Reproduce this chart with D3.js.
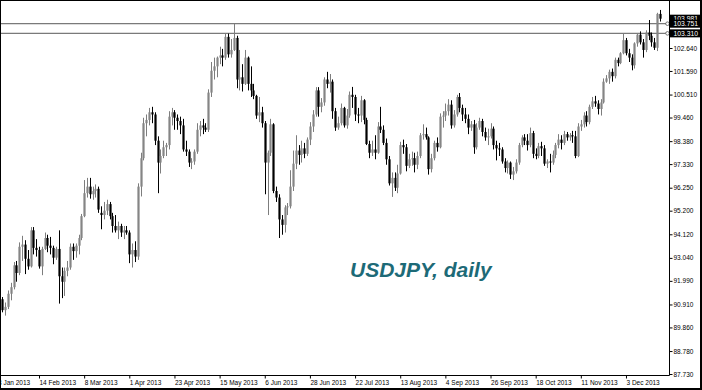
<!DOCTYPE html>
<html>
<head>
<meta charset="utf-8">
<script src="https://cdn.jsdelivr.net/npm/d3@7"></script>
<style>
  html, body { margin: 0; padding: 0; background: #fff; }
  svg { display: block; }
  text { font-family: "Liberation Sans", Arial, sans-serif; }
</style>
</head>
<body>
<div id="chart"></div>
<script>
// USDJPY daily bars, 28 Jan 2013 .. 19 Dec 2013 (weekdays)
const firstDay = "2013-01-23";   // first weekday of the axis (bars start 3 days later)
const lastDay = "2013-12-19";
const firstBar = 3;

const opens = [
  91.15, 90.65, 90.80, 91.40, 91.70, 92.70, 92.35, 93.55, 93.65, 93.00,
  92.65, 94.30, 93.50, 93.40, 92.65, 93.45, 93.95, 93.60, 93.50, 93.05,
  93.45, 92.20, 91.95, 92.45, 92.60, 93.55, 93.35, 93.60, 93.95, 94.95,
  96.00, 96.30, 95.95, 96.10, 96.20, 95.10, 95.00, 95.20, 95.50, 94.95,
  94.50, 94.30, 94.50, 94.20, 94.30, 94.20, 93.20, 93.40, 93.10, 96.30,
  97.60, 99.20, 99.35, 99.70, 99.60, 98.40, 97.40, 97.70, 98.10, 98.20,
  99.50, 99.70, 99.45, 99.30, 99.10, 98.00, 97.90, 97.40, 97.45, 97.90,
  98.90, 99.10, 99.00, 98.90, 100.60, 101.60, 101.80, 102.20, 102.30, 102.20,
  103.15, 102.35, 102.55, 103.10, 101.20, 101.30, 101.00, 102.20, 101.00, 100.70,
  100.45, 99.55, 99.70, 99.20, 97.40, 97.85, 99.15, 96.10, 95.80, 94.80,
  94.55, 95.35, 95.40, 96.30, 97.35, 97.95, 97.75, 98.05, 97.80, 98.45,
  99.05, 99.60, 100.70, 99.95, 100.15, 101.20, 101.00, 101.10, 99.75, 99.00,
  99.20, 99.90, 99.10, 99.55, 100.50, 100.40, 99.60, 99.55, 100.25, 99.35,
  98.25, 97.85, 98.00, 97.85, 99.05, 98.90, 98.30, 97.55, 96.45, 96.70,
  96.25, 96.90, 98.20, 98.10, 97.25, 97.55, 97.60, 97.30, 97.70, 98.65,
  98.70, 98.55, 97.10, 97.60, 98.30, 98.10, 99.50, 99.55, 99.75, 100.05,
  99.10, 99.60, 100.40, 99.90, 99.60, 99.40, 99.00, 99.15, 98.10, 99.00,
  99.30, 98.80, 98.55, 98.60, 98.95, 98.20, 98.05, 98.00, 97.45, 97.15,
  97.40, 96.85, 97.00, 97.40, 98.20, 98.55, 98.40, 98.20, 98.75, 97.80,
  97.70, 98.15, 98.05, 97.35, 97.45, 97.40, 97.75, 98.20, 98.45, 98.30,
  98.70, 98.55, 98.65, 98.60, 97.70, 99.05, 99.15, 99.55, 99.25, 99.95,
  100.20, 100.10, 99.85, 100.15, 101.10, 101.25, 101.55, 101.35, 102.10, 101.95,
  102.40, 103.00, 102.40, 102.20, 101.85, 102.85, 103.25, 102.90, 102.55, 103.35,
  103.20, 102.90, 102.65, 104.20
];
const highs = [
  91.25, 91.00, 91.55, 91.90, 92.85, 92.90, 93.75, 94.05, 93.85, 93.40,
  94.45, 94.45, 93.90, 93.55, 93.55, 94.20, 94.10, 94.00, 93.60, 93.55,
  94.30, 92.60, 92.60, 92.90, 93.70, 93.70, 93.70, 94.10, 95.05, 96.60,
  96.70, 96.70, 96.30, 96.40, 96.30, 95.40, 95.60, 95.70, 95.60, 95.10,
  95.00, 94.70, 94.60, 94.50, 94.50, 94.30, 93.70, 93.80, 96.45, 97.85,
  99.45, 99.60, 99.90, 99.95, 99.70, 98.60, 98.00, 98.40, 98.30, 99.75,
  99.90, 99.80, 99.60, 99.50, 99.40, 98.40, 98.00, 97.60, 98.00, 99.20,
  99.30, 99.40, 99.20, 100.75, 102.00, 102.20, 102.25, 102.70, 102.60, 103.30,
  103.30, 103.05, 103.74, 103.20, 102.55, 101.90, 102.55, 102.25, 101.80, 101.00,
  100.50, 100.40, 99.95, 99.30, 97.95, 99.40, 99.20, 96.30, 95.95, 95.00,
  95.45, 95.55, 97.05, 97.95, 98.65, 98.20, 98.40, 98.30, 98.55, 99.25,
  99.80, 100.85, 100.85, 100.35, 101.30, 101.55, 101.45, 101.20, 99.90, 99.50,
  100.10, 99.95, 99.85, 100.65, 100.86, 100.50, 99.90, 100.45, 100.30, 99.45,
  98.40, 98.40, 98.65, 99.25, 99.95, 99.10, 98.50, 97.70, 96.95, 96.95,
  97.30, 98.35, 98.45, 98.25, 97.80, 97.90, 97.85, 97.90, 98.75, 99.15,
  99.00, 98.60, 97.80, 98.40, 98.55, 99.65, 99.75, 100.10, 100.30, 100.25,
  99.80, 100.50, 100.58, 100.05, 99.90, 99.60, 99.30, 99.35, 99.20, 99.45,
  99.40, 99.00, 98.95, 99.20, 99.05, 98.40, 98.30, 98.10, 97.60, 97.50,
  97.45, 97.20, 97.55, 98.30, 98.65, 98.70, 98.70, 99.00, 98.85, 98.05,
  98.30, 98.35, 98.20, 97.55, 97.80, 97.95, 98.30, 98.70, 98.65, 98.85,
  98.80, 98.75, 98.85, 98.85, 99.20, 99.35, 99.70, 99.75, 100.05, 100.40,
  100.45, 100.25, 100.30, 101.25, 101.40, 101.65, 101.70, 102.20, 102.20, 102.45,
  103.31, 103.10, 102.60, 102.35, 102.90, 103.30, 103.40, 103.05, 103.45, 103.92,
  103.35, 103.10, 104.25, 104.38
];
const lows = [
  90.55, 90.40, 90.70, 91.10, 91.60, 91.95, 92.25, 92.90, 92.30, 92.50,
  92.60, 93.20, 93.10, 92.55, 92.25, 93.40, 93.30, 93.20, 92.75, 92.95,
  90.95, 91.20, 91.30, 92.20, 92.50, 92.95, 93.05, 93.20, 93.85, 94.90,
  95.80, 95.75, 95.70, 95.80, 95.10, 94.35, 94.80, 95.00, 94.80, 94.20,
  94.20, 93.90, 94.00, 93.90, 94.10, 92.80, 92.60, 92.85, 92.95, 95.85,
  97.50, 98.60, 99.10, 99.20, 98.20, 96.00, 96.90, 97.60, 97.70, 98.00,
  99.10, 98.90, 98.90, 98.70, 97.90, 97.70, 97.20, 97.10, 97.30, 97.80,
  98.60, 98.70, 98.80, 98.80, 100.40, 101.20, 101.30, 101.90, 101.80, 102.10,
  102.20, 102.20, 102.50, 100.80, 100.70, 100.65, 100.95, 100.70, 100.40, 100.30,
  99.40, 99.25, 99.00, 95.95, 95.00, 97.70, 96.00, 95.60, 93.95, 94.10,
  94.20, 95.00, 95.30, 96.10, 97.10, 97.30, 97.40, 97.60, 97.70, 98.20,
  98.80, 99.50, 99.50, 99.70, 100.00, 100.80, 100.60, 99.40, 98.85, 98.90,
  99.10, 99.00, 98.95, 99.45, 99.90, 99.30, 99.20, 99.25, 99.15, 98.20,
  97.60, 97.70, 97.55, 97.80, 98.75, 98.20, 97.30, 96.35, 95.83, 96.10,
  96.00, 96.85, 97.80, 97.00, 97.15, 97.25, 96.95, 97.10, 97.60, 98.45,
  98.45, 96.85, 96.95, 97.50, 97.90, 98.05, 99.00, 99.30, 99.55, 98.95,
  99.00, 99.50, 99.70, 99.30, 99.20, 98.70, 98.85, 97.80, 98.00, 98.90,
  98.60, 98.40, 98.20, 98.50, 98.00, 97.50, 97.70, 97.35, 96.95, 96.90,
  96.65, 96.60, 96.90, 97.30, 98.10, 98.20, 97.95, 98.10, 97.60, 97.55,
  97.60, 97.70, 97.25, 97.15, 96.95, 97.30, 97.60, 98.05, 98.00, 98.20,
  98.40, 98.40, 98.30, 97.60, 97.65, 98.85, 99.00, 99.05, 99.15, 99.85,
  99.95, 99.60, 99.55, 100.10, 101.05, 101.00, 101.10, 101.25, 101.80, 101.90,
  102.35, 102.30, 102.00, 101.62, 101.70, 102.70, 102.80, 102.20, 102.45, 103.00,
  102.70, 102.55, 102.50, 103.85
];
const closes = [
  90.65, 90.80, 91.40, 91.70, 92.70, 92.35, 93.55, 93.65, 93.00, 92.65,
  94.30, 93.50, 93.40, 92.65, 93.45, 93.95, 93.60, 93.50, 93.05, 93.45,
  92.20, 91.95, 92.45, 92.60, 93.55, 93.35, 93.60, 93.95, 94.95, 96.00,
  96.30, 95.95, 96.10, 96.20, 95.25, 95.00, 95.20, 95.50, 94.95, 94.50,
  94.30, 94.50, 94.20, 94.30, 94.20, 93.20, 93.40, 93.10, 96.30, 97.60,
  99.20, 99.35, 99.70, 99.60, 98.40, 97.40, 97.70, 98.10, 98.20, 99.50,
  99.70, 99.45, 99.30, 99.10, 98.00, 97.90, 97.40, 97.45, 97.90, 98.90,
  99.10, 99.00, 98.90, 100.60, 101.60, 101.80, 102.20, 102.30, 102.20, 103.15,
  102.35, 102.55, 103.10, 101.20, 101.30, 101.00, 102.20, 101.00, 100.70, 100.45,
  99.55, 99.70, 99.20, 97.40, 97.85, 99.15, 96.10, 95.80, 94.80, 94.55,
  95.35, 95.40, 96.30, 97.35, 97.95, 97.75, 98.05, 97.80, 98.45, 99.05,
  99.60, 100.70, 99.95, 100.15, 101.20, 101.00, 101.10, 99.75, 99.00, 99.20,
  99.90, 99.10, 99.55, 100.50, 100.40, 99.60, 99.55, 100.25, 99.35, 98.25,
  97.85, 98.00, 97.85, 99.05, 98.90, 98.30, 97.55, 96.45, 96.70, 96.25,
  96.90, 98.20, 98.10, 97.25, 97.55, 97.60, 97.30, 97.70, 98.65, 98.70,
  98.55, 97.10, 97.60, 98.30, 98.10, 99.50, 99.55, 99.75, 100.05, 99.10,
  99.60, 100.40, 99.90, 99.60, 99.40, 99.00, 99.15, 98.10, 99.00, 99.30,
  98.80, 98.55, 98.60, 98.95, 98.20, 98.05, 98.00, 97.45, 97.15, 97.40,
  96.85, 97.00, 97.40, 98.20, 98.55, 98.40, 98.20, 98.75, 97.80, 97.70,
  98.15, 98.05, 97.35, 97.45, 97.40, 97.75, 98.20, 98.45, 98.30, 98.70,
  98.55, 98.65, 98.60, 97.70, 99.05, 99.15, 99.55, 99.25, 99.95, 100.20,
  100.10, 99.85, 100.15, 101.10, 101.25, 101.55, 101.35, 102.10, 101.95, 102.40,
  103.00, 102.40, 102.20, 101.85, 102.85, 103.25, 102.90, 102.55, 103.35, 103.20,
  102.90, 102.65, 104.20, 103.98
];

const xTickLabels = ["23 Jan 2013", "14 Feb 2013", "8 Mar 2013", "1 Apr 2013", "23 Apr 2013",
  "15 May 2013", "6 Jun 2013", "28 Jun 2013", "22 Jul 2013", "13 Aug 2013", "4 Sep 2013",
  "26 Sep 2013", "18 Oct 2013", "11 Nov 2013", "3 Dec 2013"];
const yTickValues = [87.73, 88.78, 89.86, 90.91, 91.99, 93.04, 94.12, 95.20, 96.25,
  97.33, 98.38, 99.46, 100.51, 101.59, 102.64];
const levelLines = [103.751, 103.310];
const lastPrice = 103.981;
const title = "USDJPY, daily";

const W = 702, H = 390;
const plotRight = 669.5, plotBottom = 375.5;

const parseIso = d3.timeParse("%Y-%m-%d");
const parseLabel = d3.timeParse("%d %b %Y");
const days = d3.timeDay.range(parseIso(firstDay), d3.timeDay.offset(parseIso(lastDay), 1))
  .filter(d => d.getDay() !== 0 && d.getDay() !== 6);

const bars = opens.map((o, k) => ({
  i: k + firstBar, o: o, h: highs[k], l: lows[k], c: closes[k]
}));

const x = d3.scaleLinear().domain([0, days.length - 1]).range([-6.15, -6.15 + 2.822 * (days.length - 1)]);
const y = d3.scaleLinear().domain([87.73, 102.64]).range([374, 48]);

const svg = d3.select("#chart").append("svg")
  .attr("width", W).attr("height", H);

svg.append("rect").attr("width", W).attr("height", H).attr("fill", "#fff");

svg.append("clipPath").attr("id", "plot")
  .append("rect").attr("x", 1).attr("y", 1).attr("width", plotRight - 1).attr("height", plotBottom - 1);

// level lines
const lv = svg.append("g");
lv.selectAll("line").data(levelLines).enter().append("line")
  .attr("x1", 0).attr("x2", plotRight - 2)
  .attr("y1", d => y(d)).attr("y2", d => y(d))
  .attr("stroke", "#7a7a7a").attr("stroke-width", 1.3);

// candles
const body = 2.2;
const cg = svg.append("g").attr("clip-path", "url(#plot)");
const candle = cg.selectAll("g.c").data(bars).enter().append("g").attr("class", "c");
candle.append("line")
  .attr("x1", d => Math.round(x(d.i)) + 0.5).attr("x2", d => Math.round(x(d.i)) + 0.5)
  .attr("y1", d => y(d.h)).attr("y2", d => y(d.l))
  .attr("stroke", d => d.c >= d.o ? "#7d7d7d" : "#000").attr("stroke-width", 1);
candle.append("rect")
  .attr("x", d => Math.round(x(d.i)) + 0.5 - body / 2)
  .attr("width", body)
  .attr("y", d => y(Math.max(d.o, d.c)))
  .attr("height", d => Math.max(1, Math.abs(y(d.o) - y(d.c))))
  .attr("fill", d => d.c >= d.o ? "#858585" : "#000");

// markers where the level lines meet the price scale
lv.selectAll("circle").data(levelLines).enter().append("circle")
  .attr("cx", plotRight - 2).attr("cy", d => y(d)).attr("r", 1.8)
  .attr("fill", "#fff").attr("stroke", "#555").attr("stroke-width", 0.8);

// price scale
const yAxis = d3.axisRight(y).tickValues(yTickValues).tickFormat(d3.format(".3f"))
  .tickSize(3).tickPadding(1);
const ya = svg.append("g").attr("transform", `translate(${plotRight},0)`).call(yAxis);
ya.select(".domain").remove();
ya.selectAll("line").attr("stroke", "#000");
ya.selectAll("text").attr("font-size", 6.5).attr("fill", "#000").attr("font-family", null);

// time scale
const tickIdx = xTickLabels.map(s => {
  const t = +parseLabel(s);
  return days.findIndex(d => +d === t);
});
const xAxis = d3.axisBottom(x).tickValues(tickIdx)
  .tickFormat((d, k) => xTickLabels[k]).tickSize(3).tickPadding(2);
const xa = svg.append("g").attr("transform", `translate(0,${plotBottom})`).call(xAxis);
xa.select(".domain").remove();
xa.selectAll("line").attr("stroke", "#000");
xa.selectAll("text").attr("text-anchor", "start").attr("font-size", 6.5)
  .attr("fill", "#000").attr("font-family", null);

// axis lines
svg.append("line").attr("x1", 0).attr("x2", plotRight).attr("y1", plotBottom).attr("y2", plotBottom)
  .attr("stroke", "#000");
svg.append("line").attr("x1", plotRight).attr("x2", plotRight).attr("y1", 0).attr("y2", plotBottom)
  .attr("stroke", "#000");

// price tags on the scale
const tags = [lastPrice].concat(levelLines);
const tg = svg.append("g").selectAll("g").data(tags).enter().append("g")
  .attr("transform", d => `translate(${plotRight + 0.5},${y(d)})`);
tg.append("rect").attr("x", 0).attr("y", -4).attr("width", W - plotRight).attr("height", 8)
  .attr("fill", "#000");
tg.append("text").attr("x", 3.5).attr("dy", "0.35em").attr("font-size", 6.8)
  .attr("fill", "#fff").text(d => d3.format(".3f")(d));

// title
svg.append("text").attr("x", 350).attr("y", 277)
  .attr("font-size", 21).attr("font-weight", "bold").attr("font-style", "italic")
  .attr("fill", "#1d6a77").text(title);

// frame
svg.append("rect").attr("x", 0.5).attr("y", 0.5).attr("width", W - 1.5).attr("height", H - 1.5)
  .attr("fill", "none").attr("stroke", "#000").attr("stroke-width", 1);
svg.append("line").attr("x1", 0).attr("x2", W).attr("y1", H - 1).attr("y2", H - 1)
  .attr("stroke", "#000").attr("stroke-width", 2);
svg.append("line").attr("x1", W - 1).attr("x2", W - 1).attr("y1", 0).attr("y2", H)
  .attr("stroke", "#000").attr("stroke-width", 2);
</script>
</body>
</html>
